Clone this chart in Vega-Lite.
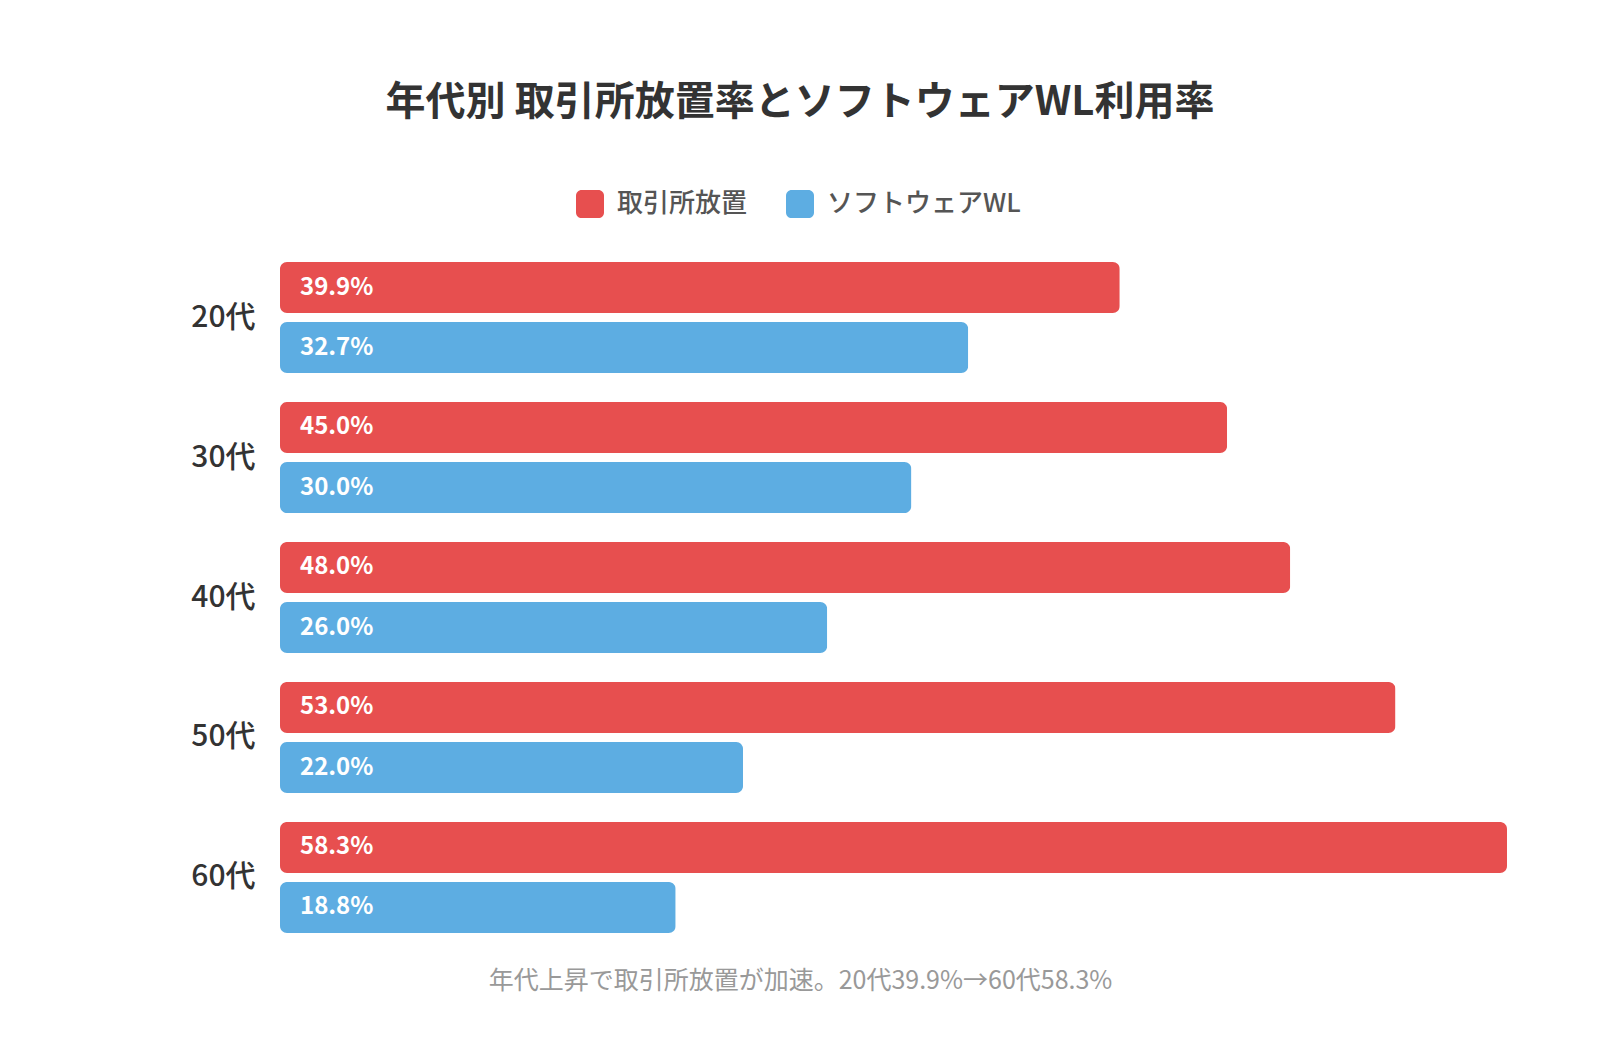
{
  "$schema": "https://vega.github.io/schema/vega-lite/v6.json",
  "width": 1227,
  "height": 671,
  "autosize": {"type": "none"},
  "padding": {"left": 280, "top": 262, "right": 93, "bottom": 129},
  "background": "#ffffff",
  "config": {
    "font": "Noto Sans CJK JP",
    "view": {"stroke": null}
  },
  "title": {
    "text": "年代別 取引所放置率とソフトウェアWL利用率",
    "anchor": "middle",
    "frame": "group",
    "dx": -93.5,
    "fontSize": 40,
    "fontWeight": "bold",
    "color": "#333333",
    "font": "Noto Sans CJK JP",
    "offset": 67
  },
  "data": {
    "values": [
      {"age": "20代", "series": "取引所放置", "value": 0.399},
      {"age": "20代", "series": "ソフトウェアWL", "value": 0.327},
      {"age": "30代", "series": "取引所放置", "value": 0.450},
      {"age": "30代", "series": "ソフトウェアWL", "value": 0.300},
      {"age": "40代", "series": "取引所放置", "value": 0.480},
      {"age": "40代", "series": "ソフトウェアWL", "value": 0.260},
      {"age": "50代", "series": "取引所放置", "value": 0.530},
      {"age": "50代", "series": "ソフトウェアWL", "value": 0.220},
      {"age": "60代", "series": "取引所放置", "value": 0.583},
      {"age": "60代", "series": "ソフトウェアWL", "value": 0.188}
    ]
  },
  "encoding": {
    "y": {
      "field": "age",
      "type": "nominal",
      "sort": ["20代", "30代", "40代", "50代", "60代"],
      "scale": {"paddingInner": 0.207, "paddingOuter": 0},
      "axis": {
        "title": null,
        "ticks": false,
        "domain": false,
        "labelFontSize": 30,
        "labelFontWeight": 500,
        "labelColor": "#333333",
        "labelPadding": 25,
        "labelFont": "Noto Sans CJK JP"
      }
    },
    "yOffset": {
      "field": "series",
      "type": "nominal",
      "sort": ["取引所放置", "ソフトウェアWL"],
      "scale": {"paddingInner": 0.15, "paddingOuter": 0}
    }
  },
  "layer": [
    {
      "mark": {"type": "bar", "cornerRadius": 7},
      "encoding": {
        "x": {
          "field": "value",
          "type": "quantitative",
          "scale": {"domain": [0, 0.583], "nice": false, "zero": true},
          "axis": {
            "grid": false,
            "labels": false,
            "ticks": false,
            "domain": false,
            "title": "年代上昇で取引所放置が加速。20代39.9%→60代58.3%",
            "titleFontSize": 25,
            "titleFontWeight": "normal",
            "titleColor": "#999999",
            "titleFont": "Noto Sans CJK JP",
            "titleX": 520,
            "titleY": 47,
            "titleAlign": "center",
            "titleBaseline": "middle"
          }
        },
        "color": {
          "field": "series",
          "type": "nominal",
          "scale": {
            "domain": ["取引所放置", "ソフトウェアWL"],
            "range": ["#e74f4f", "#5dade2"]
          },
          "legend": {
            "title": null,
            "orient": "none",
            "direction": "horizontal",
            "legendX": 296,
            "legendY": -72,
            "symbolType": "M-0.6,-1 L0.6,-1 A0.4,0.4 0 0 1 1,-0.6 L1,0.6 A0.4,0.4 0 0 1 0.6,1 L-0.6,1 A0.4,0.4 0 0 1 -1,0.6 L-1,-0.6 A0.4,0.4 0 0 1 -0.6,-1 Z",
            "symbolSize": 784,
            "symbolStrokeWidth": 0,
            "symbolOpacity": 1,
            "labelFontSize": 26,
            "labelFontWeight": 500,
            "labelColor": "#555555",
            "labelFont": "Noto Sans CJK JP",
            "labelLimit": 400,
            "labelOffset": 13,
            "columnPadding": 38
          }
        }
      }
    },
    {
      "mark": {
        "type": "text",
        "align": "left",
        "baseline": "middle",
        "dx": 20,
        "fontSize": 24,
        "fontWeight": "bold",
        "color": "#ffffff",
        "font": "Noto Sans CJK JP"
      },
      "encoding": {
        "x": {"datum": 0, "type": "quantitative"},
        "text": {"field": "value", "type": "quantitative", "format": ".1%"}
      }
    }
  ]
}
